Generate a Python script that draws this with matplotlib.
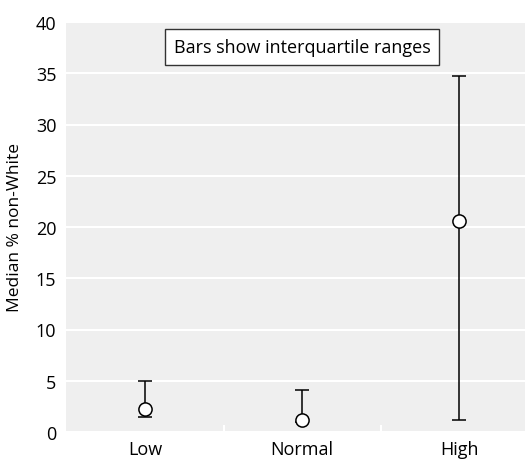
import matplotlib
matplotlib.use("Agg")
import matplotlib.pyplot as plt
import numpy as np

categories = ["Low", "Normal", "High"]
medians = [2.25, 1.2, 20.6]
q1 = [1.45, 1.0, 1.2]
q3 = [4.95, 4.05, 34.7]

plt.rcParams['font.family'] = ['Open Sans', 'DejaVu Sans']

fig = plt.figure(figsize=(5.25, 4.64), dpi=100)
ax = fig.add_axes([66/525, 1-433/464, (525-66)/525, (433-23)/464])
ax.set_facecolor('#efefef')
for s in ax.spines.values():
    s.set_visible(False)

x = np.arange(len(categories))
med = np.array(medians)
lo = med - np.array(q1)
hi = np.array(q3) - med
ax.errorbar(x, med, yerr=[lo, hi], fmt='o', color='black', ecolor='black',
            elinewidth=1.1, capsize=5, capthick=1.1, mfc='white', mec='black',
            ms=9.5, mew=1.1, zorder=3)

ax.set_ylim(0, 40)
ax.set_xlim(-0.503, 2.42)
ax.set_yticks(np.arange(0, 41, 5))
ax.yaxis.grid(True, color='white', lw=1.5)
ax.set_axisbelow(True)
ax.tick_params(axis='y', length=0, labelsize=13, pad=7)
ax.set_xticks(x)
ax.set_xticklabels(categories)
ax.tick_params(axis='x', length=0, labelsize=13, pad=6)
ax.set_xticks([0.5, 1.5], minor=True)
ax.tick_params(axis='x', which='minor', direction='in', length=5, color='white', width=1.5)
ax.set_ylabel("Median % non-White", fontsize=12.5, labelpad=9)

ax.text(1, 37.6, "Bars show interquartile ranges", ha='center', va='center', fontsize=13,
        bbox=dict(boxstyle='square,pad=0.5', fc='white', ec='#333333', lw=1))

fig.savefig("out.png", dpi=100)
